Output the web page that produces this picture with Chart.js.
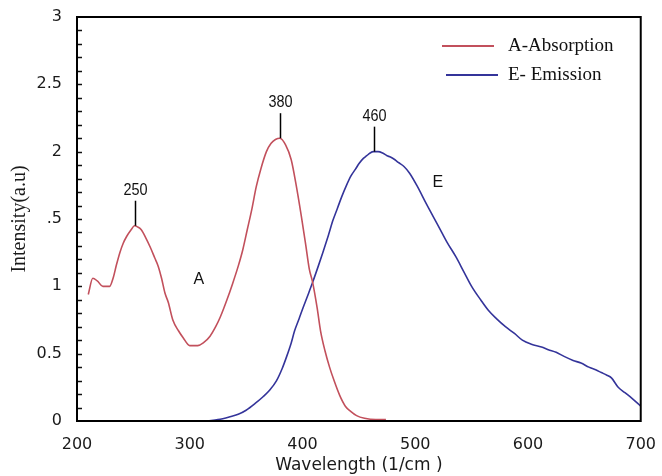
<!DOCTYPE html>
<html>
<head>
<meta charset="utf-8">
<script src="https://cdn.jsdelivr.net/npm/chart.js@4.4.0/dist/chart.umd.min.js"></script>
<style>
  html, body { margin: 0; padding: 0; background: #fff; }
  #wrap { width: 662px; height: 476px; }
</style>
</head>
<body>
<div id="wrap"><canvas id="spectra"></canvas></div>
<script>
// absorption spectrum (red)
const absWave = [210, 214, 218, 223, 229, 232, 235, 238, 241, 244, 248, 251, 254, 257, 261, 265, 269, 272, 275, 278,
  281, 285, 290, 294, 300, 307, 312, 318, 323, 327, 333, 338, 343, 347, 351, 355, 359, 363, 368, 372, 376, 380,
  385, 390, 394, 399, 403, 406, 409, 413, 416, 420, 424, 428, 433, 438, 443, 448, 455, 465, 474];
const absVal = [0.94, 1.06, 1.04, 1.00, 1.00, 1.06, 1.16, 1.25, 1.32, 1.37, 1.42, 1.45, 1.44, 1.42, 1.36, 1.29, 1.21, 1.15, 1.06, 0.95,
  0.88, 0.75, 0.67, 0.62, 0.56, 0.56, 0.58, 0.63, 0.70, 0.77, 0.90, 1.02, 1.15, 1.27, 1.42, 1.57, 1.74, 1.87, 2.00, 2.06, 2.09, 2.10,
  2.05, 1.94, 1.77, 1.52, 1.30, 1.13, 1.03, 0.84, 0.67, 0.52, 0.40, 0.30, 0.19, 0.11, 0.07, 0.04, 0.02, 0.01, 0.01];

// emission spectrum (blue)
const emWave = [316, 325, 335, 343, 350, 358, 365, 371, 377, 382, 386, 390, 393, 397, 400, 405, 409, 414, 418, 423, 427,
  431, 435, 439, 443, 447, 450, 454, 457, 460, 463, 467, 471, 475, 478, 482, 485, 490, 495, 502, 510, 521, 528, 536,
  543, 550, 558, 565, 572, 580, 588, 595, 603, 612, 618, 625, 632, 640, 647, 654, 660, 665, 670, 674, 680, 686, 692, 700];
const emVal = [0.00, 0.01, 0.03, 0.05, 0.08, 0.13, 0.18, 0.23, 0.30, 0.39, 0.48, 0.58, 0.67, 0.76, 0.83, 0.94, 1.03, 1.15, 1.25, 1.38, 1.49,
  1.58, 1.67, 1.75, 1.82, 1.87, 1.91, 1.95, 1.97, 1.99, 2.00, 2.00, 1.99, 1.97, 1.96, 1.94, 1.92, 1.89, 1.84, 1.74, 1.61, 1.44, 1.33, 1.22,
  1.11, 1.00, 0.90, 0.82, 0.76, 0.70, 0.65, 0.60, 0.57, 0.55, 0.53, 0.51, 0.48, 0.45, 0.43, 0.40, 0.38, 0.36, 0.34, 0.32, 0.25, 0.21, 0.17, 0.11];

const seriesNames = ['A-Absorption', 'E- Emission'];
const xTicks = [200, 300, 400, 500, 600, 700];
const yTickLabels = ['0', '0.5', '1', '.5', '2', '2.5', '3'];

// peak markers: where they sit, what they say
const peakWave = [251, 380, 463];
const peakVal = [1.45, 2.10, 2.00];
const peakText = ['250', '380', '460'];

// curve letters
const curveLetter = ['A', 'E'];
const letterWave = [308, 520];
const letterVal = [1.05, 1.77];

const RED = '#c2505c';
const BLUE = '#34349a';
const TICK_FONT = { family: '"DejaVu Sans", Verdana, sans-serif', size: 16 };

const toPts = (xs, ys) => xs.map((x, i) => ({ x, y: ys[i] }));

const decorations = {
  id: 'decorations',
  afterDatasetsDraw(chart) {
    const { ctx, chartArea: a, scales: { x, y } } = chart;
    ctx.save();

    // inward minor ticks on the left axis, every 0.1
    ctx.strokeStyle = '#111';
    ctx.lineWidth = 1.5;
    for (let i = 1; i < 30; i++) {
      const py = Math.round(y.getPixelForValue(i / 10)) + 0.5;
      ctx.beginPath();
      ctx.moveTo(a.left, py);
      ctx.lineTo(a.left + 5, py);
      ctx.stroke();
    }

    // frame
    ctx.lineWidth = 2;
    ctx.strokeStyle = '#000';
    ctx.strokeRect(a.left, a.top, a.right - a.left, a.bottom - a.top);

    // peak markers (narrow digits)
    ctx.fillStyle = '#111';
    ctx.lineWidth = 1.5;
    ctx.font = '17px "Liberation Sans", Arial, sans-serif';
    ctx.textAlign = 'center';
    ctx.textBaseline = 'alphabetic';
    peakWave.forEach((w, i) => {
      const px = Math.round(x.getPixelForValue(w)) + 0.5;
      const py = y.getPixelForValue(peakVal[i]);
      ctx.beginPath();
      ctx.moveTo(px, py);
      ctx.lineTo(px, py - 25);
      ctx.stroke();
      ctx.save();
      ctx.translate(px, py - 31);
      ctx.scale(0.85, 1);
      ctx.fillText(peakText[i], 0, 0);
      ctx.restore();
    });

    // curve letters
    ctx.font = '16px "Liberation Sans", Arial, sans-serif';
    ctx.textBaseline = 'middle';
    curveLetter.forEach((t, i) => {
      ctx.fillText(t, x.getPixelForValue(letterWave[i]), y.getPixelForValue(letterVal[i]));
    });

    // legend
    ctx.font = '19px "Liberation Serif", "Times New Roman", serif';
    ctx.textAlign = 'left';
    chart.data.datasets.forEach((ds, i) => {
      const ly = 46 + i * 29;
      ctx.strokeStyle = ds.borderColor;
      ctx.lineWidth = 1.8;
      ctx.beginPath();
      ctx.moveTo(442 + i * 4, ly);
      ctx.lineTo(494 + i * 4, ly);
      ctx.stroke();
      ctx.fillStyle = '#111';
      ctx.fillText(ds.label, 508, ly);
    });

    ctx.restore();
  }
};

new Chart(document.getElementById('spectra'), {
  type: 'scatter',
  data: {
    datasets: [
      {
        label: seriesNames[0],
        data: toPts(absWave, absVal),
        showLine: true,
        borderColor: RED,
        borderWidth: 1.6,
        pointRadius: 0,
        cubicInterpolationMode: 'monotone'
      },
      {
        label: seriesNames[1],
        data: toPts(emWave, emVal),
        showLine: true,
        borderColor: BLUE,
        borderWidth: 1.6,
        pointRadius: 0,
        cubicInterpolationMode: 'monotone'
      }
    ]
  },
  options: {
    responsive: true,
    maintainAspectRatio: false,
    animation: false,
    layout: { padding: { left: 0, right: 20, top: 17, bottom: 0 } },
    plugins: {
      legend: { display: false },
      tooltip: { enabled: false }
    },
    scales: {
      x: {
        type: 'linear',
        min: 200,
        max: 700,
        afterBuildTicks: (s) => { s.ticks = xTicks.map(v => ({ value: v })); },
        afterFit: (s) => { s.height = 55; },
        grid: { display: false },
        border: { display: false },
        ticks: { padding: 6, color: '#1a1a1a', font: TICK_FONT },
        title: {
          display: true,
          text: 'Wavelength (1/cm )',
          color: '#1a1a1a',
          font: { family: '"DejaVu Sans", Verdana, sans-serif', size: 17 },
          padding: { top: 0, bottom: 0 }
        }
      },
      y: {
        min: 0,
        max: 3,
        afterFit: (s) => { s.width = 77; },
        grid: { display: false },
        border: { display: false },
        ticks: {
          stepSize: 0.5,
          padding: 7,
          color: '#1a1a1a',
          font: TICK_FONT,
          callback: (v) => yTickLabels[Math.round(v * 2)]
        },
        title: {
          display: true,
          text: 'Intensity(a.u)',
          color: '#1a1a1a',
          font: { family: '"Liberation Serif", "Times New Roman", serif', size: 20 },
          padding: { top: 8, bottom: 0 }
        }
      }
    }
  },
  plugins: [decorations]
});
</script>
</body>
</html>
